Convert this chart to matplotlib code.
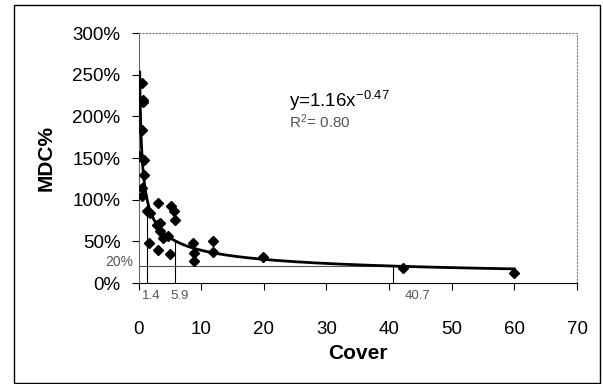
#!/usr/bin/env python
"""MDC% versus cover with power-law fit."""

import matplotlib

matplotlib.use("Agg")
import matplotlib.pyplot as plt
import numpy as np
from matplotlib.patches import Rectangle
from matplotlib.ticker import MultipleLocator, PercentFormatter

plt.rcParams["font.family"] = ["Liberation Sans", "DejaVu Sans"]
plt.rcParams["mathtext.fontset"] = "custom"
plt.rcParams["mathtext.rm"] = "Liberation Sans"
plt.rcParams["mathtext.default"] = "regular"

# observed points (cover, MDC as fraction)
cover = [0.5, 0.7, 0.7, 0.6, 0.1, 0.8, 0.8, 0.5, 0.6, 1.4, 1.8, 3.1, 5.2, 5.7, 5.8,
         2.9, 3.5, 3.4, 3.9, 4.7, 1.7, 3.1, 5.0, 8.7, 8.8, 8.8, 11.9, 11.9, 19.9, 42.2, 60.0]
mdc = [2.40, 2.20, 2.17, 1.84, 1.52, 1.48, 1.30, 1.14, 1.04, 0.86, 0.84, 0.96, 0.92, 0.87, 0.76,
       0.70, 0.72, 0.62, 0.54, 0.56, 0.48, 0.40, 0.35, 0.48, 0.36, 0.26, 0.51, 0.37, 0.31, 0.18, 0.12]

# fitted power law y = a * x^b
fit_a = 1.16
fit_b = -0.47
fit_r2 = 0.80
fit_xmin = 0.19
fit_xmax = 60.0

# cover values where the fit crosses 100%, 50%, 20%
marked_cover = [1.4, 5.9, 40.7]
marked_labels = ["1.4", "5.9", "40.7"]
marked_level = 0.20


def power_fit(x):
    return fit_a * np.power(x, fit_b)


def main() -> None:
    fig = plt.figure(figsize=(6.03, 3.84), dpi=100)
    ax = fig.add_axes([0.2297, 0.263, 0.7272, 0.651])

    xs = np.linspace(fit_xmin, fit_xmax, 600)
    ax.plot(xs, power_fit(xs), color="black", lw=2.0, zorder=3)
    ax.plot(cover, mdc, linestyle="none", marker="D", ms=5, color="black", zorder=4)

    # guide lines from the axis up to the curve
    for xv in marked_cover:
        ax.plot([xv, xv], [0, power_fit(xv)], color="black", lw=0.8, zorder=2)
    ax.plot([0, marked_cover[-1]], [marked_level, marked_level], color="#555555", lw=0.8, zorder=2)

    for xv, lab in zip(marked_cover, marked_labels):
        off = 3 if lab != "40.7" else 17
        ax.annotate(lab, (xv, 0), xytext=(off, -5), textcoords="offset points",
                    ha="center", va="top", fontsize=9.5, color="#555555")
    ax.annotate("20%", (0, marked_level), xytext=(-4, 3), textcoords="offset points",
                ha="right", va="center", fontsize=10, color="#555555")

    ax.text(24.0, 2.19, f"y={fit_a:.2f}x$^{{{fit_b:.2f}}}$", fontsize=13.5, va="center")
    ax.text(24.0, 1.94, f"R$^{{2}}$= {fit_r2:.2f}", fontsize=11, color="#555555", va="center")

    ax.set_xlim(0, 70)
    ax.set_ylim(0, 3.0)
    ax.xaxis.set_major_locator(MultipleLocator(10))
    ax.yaxis.set_major_locator(MultipleLocator(0.5))
    ax.yaxis.set_major_formatter(PercentFormatter(1.0, decimals=0))
    ax.tick_params(axis="x", direction="out", length=5, width=0.8, pad=22, labelsize=13.5)
    ax.tick_params(axis="y", direction="out", length=5, width=0.8, pad=8, labelsize=13.5)

    for side in ("top", "right"):
        ax.spines[side].set_linestyle((0, (1, 2)))
        ax.spines[side].set_color("#777777")
        ax.spines[side].set_linewidth(0.8)
    ax.spines["left"].set_color("#666666")
    ax.spines["left"].set_linewidth(0.8)
    ax.spines["bottom"].set_linewidth(0.8)

    ax.set_xlabel("Cover", fontsize=15, fontweight="bold", labelpad=5)
    ax.set_ylabel("MDC%", fontsize=15, fontweight="bold", labelpad=12)

    fig.patches.append(Rectangle((0.023, 0.003), 0.972, 0.984, transform=fig.transFigure,
                                 fill=False, edgecolor="black", lw=1.0))

    fig.savefig("out.png", dpi=100)
    plt.close(fig)


if __name__ == "__main__":
    main()
